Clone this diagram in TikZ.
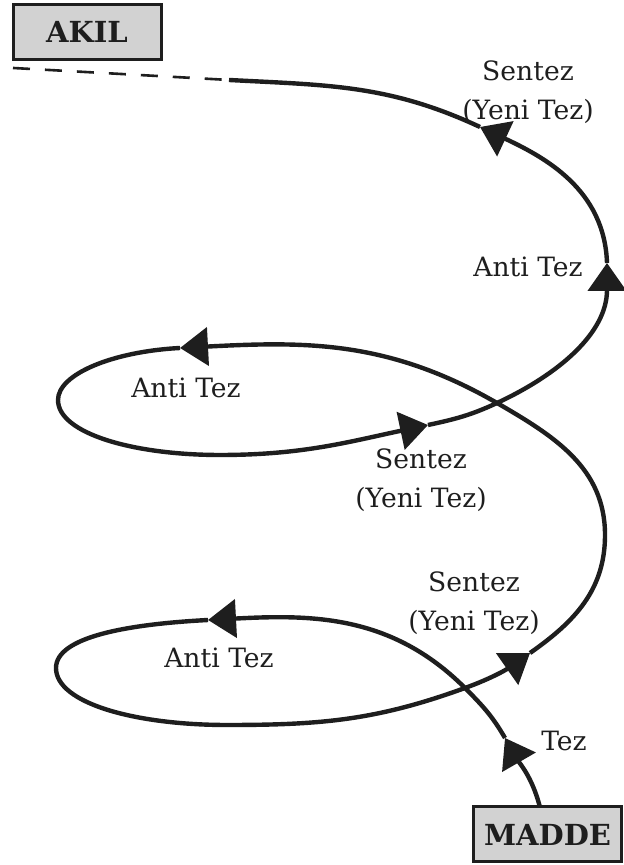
\documentclass[tikz,border=0pt]{standalone}
\usepackage{fontspec}
\setmainfont{DejaVu Serif}
\usepackage{tikz}
\usetikzlibrary{arrows.meta}
\definecolor{boxgrey}{RGB}{210,210,210}
\definecolor{ink}{RGB}{30,30,30}

\begin{document}
\begin{tikzpicture}[->,>={Triangle[length=14pt,width=19pt]},x=0.5pt,y=0.5pt,line width=2.2pt,color=ink,
      font=\fontsize{13.3}{19.5}\selectfont]
      \tikzstyle{box}=[draw=ink,fill=boxgrey,line width=1.5pt,minimum width=74pt,minimum height=27.5pt,inner sep=0pt,font=\fontsize{14.5}{17}\selectfont\bfseries]
      \tikzstyle{lbl}=[align=center,inner sep=0pt]

      \useasboundingbox (0,0) rectangle (624,865);

      \node[box] (akil)  at (87,833)     {AKIL};
      \node[box] (madde) at (547.5,30.5) {MADDE};

      % points on the spiral, from MADDE up to AKIL
      \coordinate (M)  at ([xshift=-4pt]madde.north);
      \coordinate (T)  at (505,127);
      \coordinate (X2) at (465,177);
      \coordinate (LT) at (208,245);
      \coordinate (LL) at (56,197);
      \coordinate (LB) at (227,140);
      \coordinate (S3) at (530,212);
      \coordinate (R2) at (605,330);
      \coordinate (X1) at (497,462);
      \coordinate (UT) at (180,517);
      \coordinate (UL) at (58,465);
      \coordinate (UB) at (220,410);
      \coordinate (S2) at (428,440);
      \coordinate (R1) at (607,602);
      \coordinate (S1) at (480,738);
      \coordinate (A1) at (229,785);
      \coordinate (A0) at (13,797);

      \draw (M) to[out=105,in=-60] (T);
      \draw (T) to[out=120,in=-45] (X2) to[out=135,in=3] (LT);
      \draw (LT) to[out=183,in=90,out looseness=1.3,in looseness=0.5] (LL)
                 to[out=-90,in=180,out looseness=0.5,in looseness=1.3] (LB)
                 to[out=0,in=200] (X2) to[out=20,in=215] (S3);
      \draw (S3) to[out=35,in=-90] (R2) to[out=90,in=-30] (X1) to[out=150,in=3] (UT);
      \draw (UT) to[out=183,in=90,out looseness=1.3,in looseness=0.5] (UL)
                 to[out=-90,in=180,out looseness=0.5,in looseness=1.3] (UB)
                 to[out=0,in=192] (S2);
      \draw (S2) to[out=12,in=205] (X1) to[out=25,in=-90] (R1);
      \draw (R1) to[out=92,in=-25] (S1);
      \draw[-] (S1) to[out=155,in=-3] (A1);
      \draw[-,line width=1.3pt,dash pattern=on 8.5pt off 7.5pt] (A0) -- (A1);

      \node[lbl] (s1) at (528,773) {Sentez\\(Yeni Tez)};
      \node[lbl] (a1) at (528,598) {Anti Tez};
      \node[lbl] (a2) at (186,477) {Anti Tez};
      \node[lbl] (s2) at (421,385) {Sentez\\(Yeni Tez)};
      \node[lbl] (s3) at (474,262) {Sentez\\(Yeni Tez)};
      \node[lbl] (a3) at (219,207) {Anti Tez};
      \node[lbl] (t)  at (564,124) {Tez};

\end{tikzpicture}
\end{document}
